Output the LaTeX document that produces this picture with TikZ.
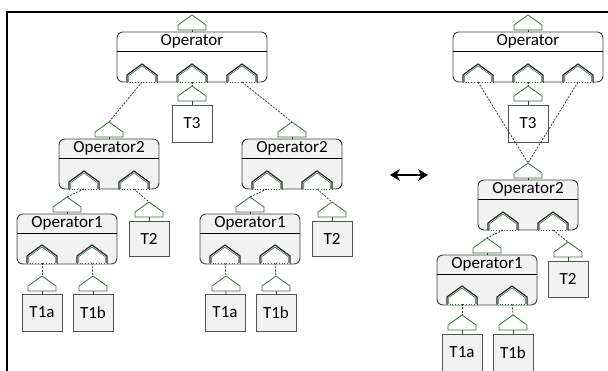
\documentclass[tikz,border=0pt]{standalone}
\usepackage{fontspec}
\setmainfont{Carlito}
\usetikzlibrary{arrows.meta}
\definecolor{portgreen}{HTML}{3B6B3B}
\definecolor{boxgray}{HTML}{F2F2F2}
\definecolor{edgegray}{HTML}{404040}
\tikzset{
  opbox/.style={draw=edgegray, line width=0.9pt, rounded corners=6pt, minimum height=50pt, inner sep=0pt, outer sep=0pt, anchor=north west},
  tbox/.style={draw=edgegray!90, line width=1pt, minimum width=40pt, minimum height=37pt, inner sep=0pt, outer sep=0pt, anchor=north west, font=\fontsize{17}{19}\selectfont},
  lbl/.style={font=\fontsize{17}{19}\selectfont, inner sep=0pt},
  hdr/.style={draw=black, line width=0.9pt},
  link/.style={draw=black!80, line width=0.75pt, dash pattern=on 2pt off 1.3pt},
  stub/.style={draw=edgegray, line width=0.8pt},
  inp/.style={draw=portgreen, line width=0.8pt, fill=white, line join=miter},
  roof/.style={draw=black!85, line width=1.2pt, line join=miter},
  roofin/.style={draw=portgreen, line width=0.6pt},
  bot/.style={draw=portgreen, line width=0.7pt, dotted},
}
% output port inside an operator box: name, cx, bottom y
\newcommand{\outport}[3]{%
  \fill[white] ({#2-15},{#3+0.6}) -- ({#2-15},{#3-7}) -- (#2,{#3-18}) -- ({#2+15},{#3-7}) -- ({#2+15},{#3+0.6}) -- cycle;
  \path[roof] ({#2-15},{#3}) -- ({#2-15},{#3-7}) -- (#2,{#3-18}) -- ({#2+15},{#3-7}) -- ({#2+15},{#3});
  \path[roofin] ({#2-13.3},{#3}) -- ({#2-13.3},{#3-6.3}) -- (#2,{#3-16}) -- ({#2+13.3},{#3-6.3}) -- ({#2+13.3},{#3});
  \path[bot] ({#2-15},{#3}) -- ({#2+15},{#3});
  \coordinate (#1) at (#2,#3);}
% input port above a box: name, cx, bottom y
\newcommand{\inport}[3]{%
  \path[inp] ({#2-14},{#3}) -- ({#2-14},{#3-5}) -- (#2,{#3-15}) -- ({#2+14},{#3-5}) -- ({#2+14},{#3}) -- cycle;
  \coordinate (#1) at (#2,{#3-15});
  \coordinate (#1-b) at (#2,#3);}
% operator box: name, x, y, width, fill, label
\newcommand{\opnode}[6]{%
  \node[opbox, fill=#5, minimum width=#4pt] (#1) at (#2,#3) {};
  \draw[hdr] ([yshift=-19pt]#1.north west) -- ([yshift=-19pt]#1.north east);
  \node[lbl] (#1-t) at ([yshift=-9.8pt]#1.north) {#6};}
\begin{document}
\begin{tikzpicture}[x=1pt,y=-1pt]
\useasboundingbox (0,0) rectangle (608,370);
% frame
\draw[line width=2.2pt] (7,371) -- (7,12) -- (609,12);

% ===== left tree =====
\opnode{opA}{117}{32}{150}{white}{Operator}
\outport{a1}{142}{82}\outport{a2}{192}{82}\outport{a3}{242}{82}
\inport{inA}{192}{30}
\draw[stub] (inA-b) -- (opA);

\node[tbox, fill=white] (t3A) at (172,105) {T3};
\inport{in3A}{192}{101}
\draw[stub] (in3A-b) -- (t3A);
\draw[link] (a2) -- (in3A);

% left subtree
\opnode{o2L}{59}{139}{100}{boxgray}{Operator2}
\outport{b1}{84}{189}\outport{b2}{134}{189}
\inport{in2L}{109}{137}
\draw[stub] (in2L-b) -- (o2L);
\draw[link] (a1) -- (in2L);

\opnode{o1L}{17}{214}{100}{boxgray}{Operator1}
\outport{c1}{42}{263}\outport{c2}{92}{263}
\inport{in1L}{67}{212}
\draw[stub] (in1L-b) -- (o1L);
\draw[link] (b1) -- (in1L);

\node[tbox, fill=boxgray, minimum height=35pt] (t2L) at (129,221) {T2};
\inport{int2L}{149}{217}
\draw[stub] (int2L-b) -- (t2L);
\draw[link] (b2) -- (int2L);

\node[tbox, fill=boxgray] (t1aL) at (22,294) {T1a};
\inport{inaL}{42}{291}
\draw[stub] (inaL-b) -- (t1aL);
\draw[link] (c1) -- (inaL);
\node[tbox, fill=boxgray] (t1bL) at (73,294) {T1b};
\inport{inbL}{93}{291}
\draw[stub] (inbL-b) -- (t1bL);
\draw[link] (c2) -- (inbL);

% right subtree
\opnode{o2R}{242}{139}{100}{boxgray}{Operator2}
\outport{d1}{267}{189}\outport{d2}{317}{189}
\inport{in2R}{292}{137}
\draw[stub] (in2R-b) -- (o2R);
\draw[link] (a3) -- (in2R);

\opnode{o1R}{200}{214}{100}{boxgray}{Operator1}
\outport{e1}{225}{263}\outport{e2}{275}{263}
\inport{in1R}{250}{212}
\draw[stub] (in1R-b) -- (o1R);
\draw[link] (d1) -- (in1R);

\node[tbox, fill=boxgray, minimum height=35pt] (t2R) at (312,221) {T2};
\inport{int2R}{332}{217}
\draw[stub] (int2R-b) -- (t2R);
\draw[link] (d2) -- (int2R);

\node[tbox, fill=boxgray] (t1aR) at (205,294) {T1a};
\inport{inaR}{226}{291}
\draw[stub] (inaR-b) -- (t1aR);
\draw[link] (e1) -- (inaR);
\node[tbox, fill=boxgray] (t1bR) at (256,294) {T1b};
\inport{inbR}{276}{291}
\draw[stub] (inbR-b) -- (t1bR);
\draw[link] (e2) -- (inbR);

% ===== arrow =====
\coordinate (arrL) at (390,175);
\coordinate (arrR) at (428,175);
\draw[line width=2.8pt, {Stealth[length=10pt,width=12pt]}-{Stealth[length=10pt,width=12pt]}] (arrL) -- (arrR);

% ===== right tree =====
\opnode{opB}{453}{32}{150}{white}{Operator}
\outport{f1}{478}{82}\outport{f2}{528}{82}\outport{f3}{578}{82}
\inport{inB}{528}{30}
\draw[stub] (inB-b) -- (opB);

\node[tbox, fill=white] (t3B) at (508,105) {T3};
\inport{in3B}{528}{101}
\draw[stub] (in3B-b) -- (t3B);
\draw[link] (f2) -- (in3B);

\opnode{o2B}{478}{180}{100}{boxgray}{Operator2}
\outport{g1}{503}{230}\outport{g2}{553}{230}
\inport{in2B}{528}{178}
\draw[stub] (in2B-b) -- (o2B);
\draw[link] (f1) -- (in2B);
\draw[link] (f3) -- (in2B);

\opnode{o1B}{437}{255}{100}{boxgray}{Operator1}
\outport{h1}{462}{304}\outport{h2}{512}{304}
\inport{in1B}{487}{253}
\draw[stub] (in1B-b) -- (o1B);
\draw[link] (g1) -- (in1B);

\node[tbox, fill=boxgray, minimum height=36pt] (t2B) at (548,261) {T2};
\inport{int2B}{568}{257}
\draw[stub] (int2B-b) -- (t2B);
\draw[link] (g2) -- (int2B);

\node[tbox, fill=boxgray] (t1aB) at (442,334) {T1a};
\inport{inaB}{462}{330}
\draw[stub] (inaB-b) -- (t1aB);
\draw[link] (h1) -- (inaB);
\node[tbox, fill=boxgray] (t1bB) at (493,334) {T1b};
\inport{inbB}{513}{330}
\draw[stub] (inbB-b) -- (t1bB);
\draw[link] (h2) -- (inbB);
\end{tikzpicture}
\end{document}
